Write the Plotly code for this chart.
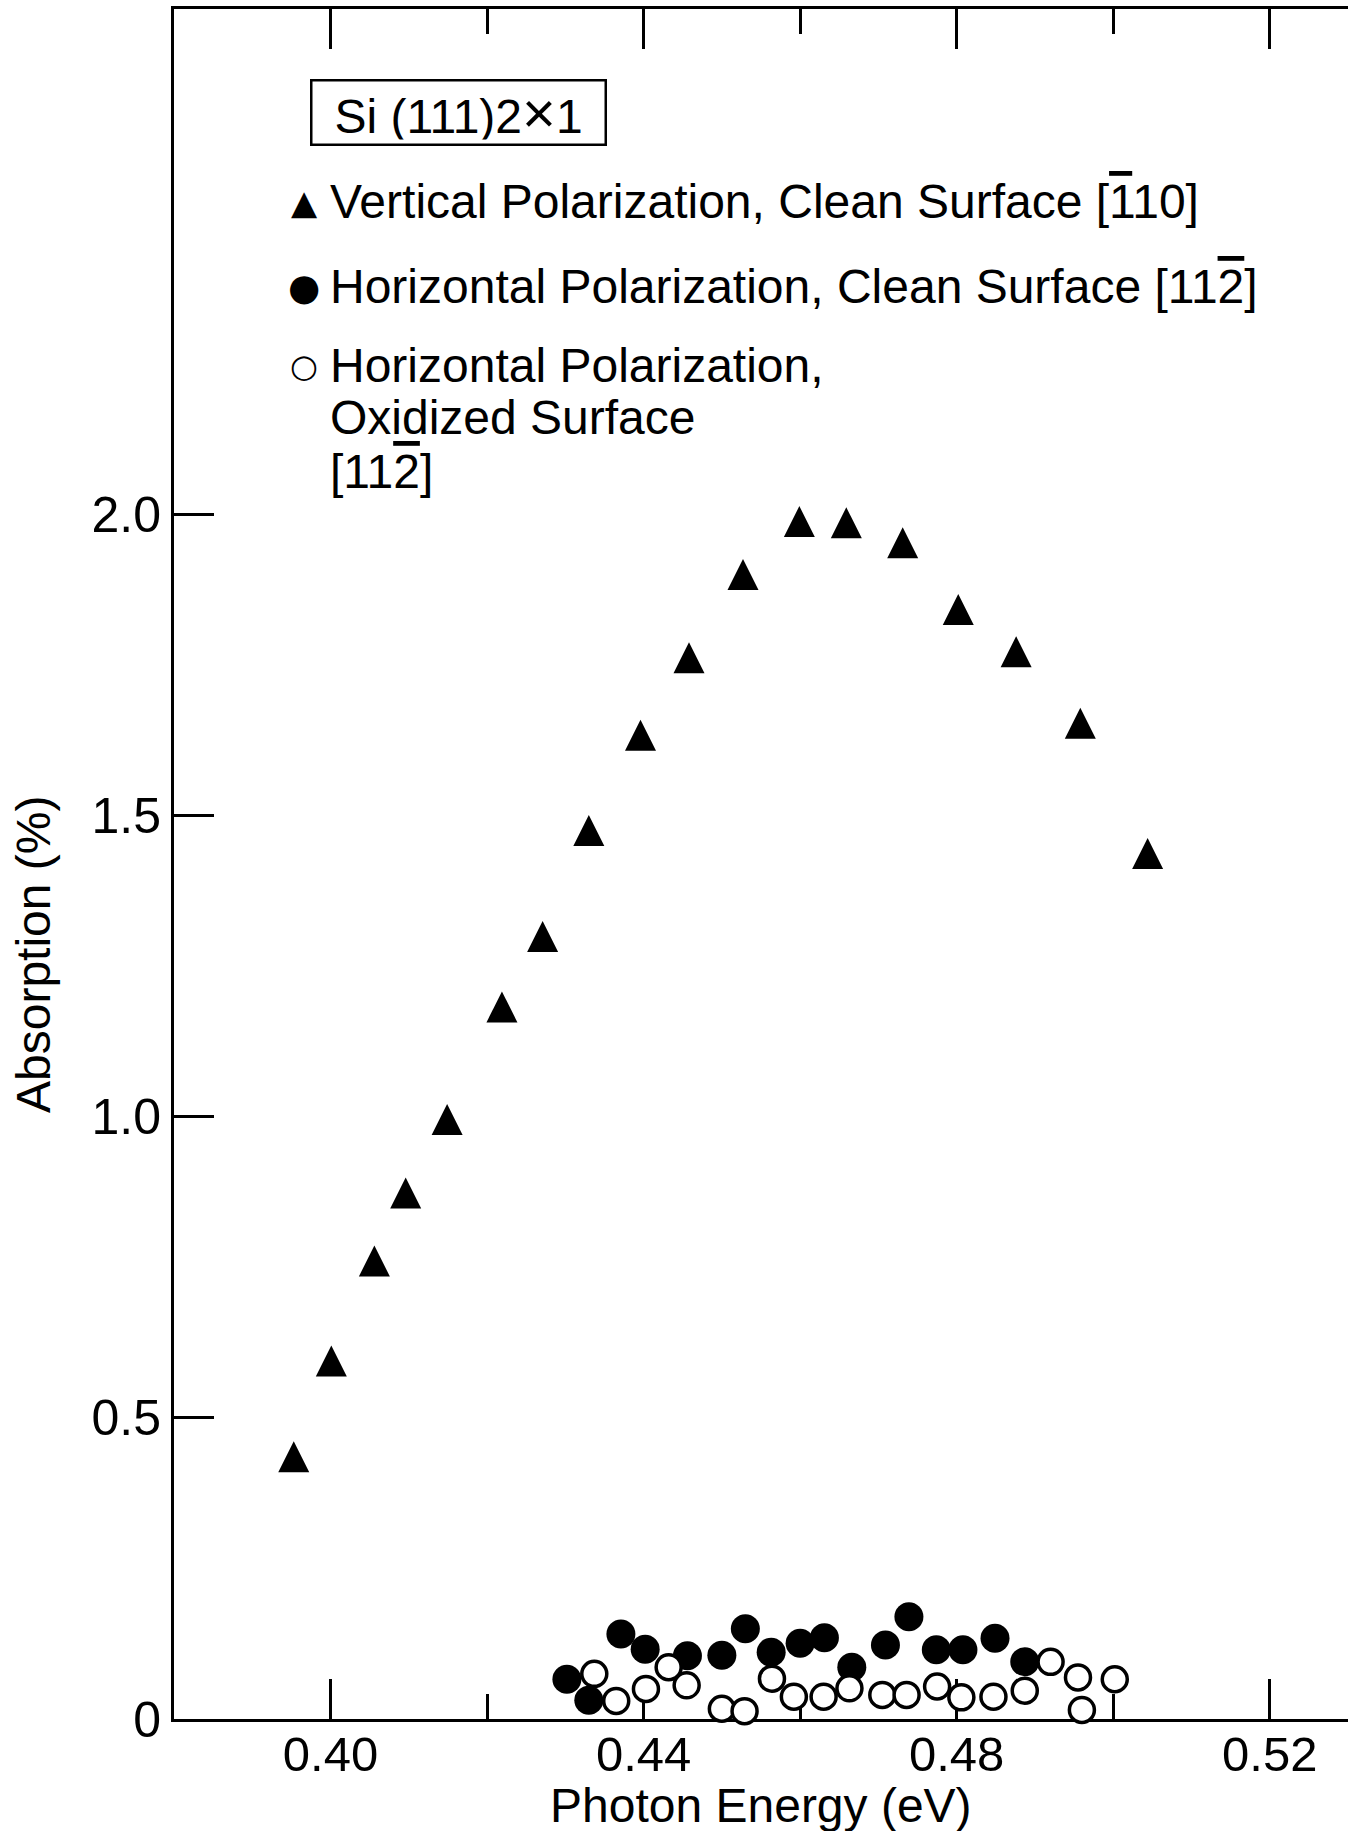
import plotly.graph_objects as go

# ---------------- data ----------------
# Vertical polarization, clean surface [-110]
tri_x = [0.3953, 0.4001, 0.4056, 0.4096, 0.4149, 0.4219, 0.4271, 0.4330, 0.4396,
         0.4458, 0.4527, 0.4599, 0.4659, 0.4731, 0.4802, 0.4876, 0.4958, 0.5044]
tri_y = [0.427, 0.586, 0.752, 0.865, 0.987, 1.174, 1.291, 1.467, 1.625,
         1.754, 1.892, 1.980, 1.978, 1.945, 1.834, 1.764, 1.645, 1.429]

# Horizontal polarization, clean surface [11-2]
fill_x = [0.4302, 0.4330, 0.4371, 0.4402, 0.4456, 0.4500, 0.4530, 0.4563, 0.4600,
          0.4631, 0.4666, 0.4709, 0.4739, 0.4774, 0.4808, 0.4849, 0.4887]
fill_y = [0.066, 0.031, 0.141, 0.116, 0.105, 0.106, 0.150, 0.111, 0.126,
          0.135, 0.086, 0.123, 0.170, 0.115, 0.115, 0.134, 0.095]

# Horizontal polarization, oxidized surface [11-2]
open_x = [0.4337, 0.4365, 0.4403, 0.4432, 0.4455, 0.4500, 0.4529, 0.4564, 0.4592,
          0.4630, 0.4663, 0.4705, 0.4736, 0.4775, 0.4806, 0.4847, 0.4887, 0.4920,
          0.4955, 0.4960, 0.5002]
open_y = [0.075, 0.030, 0.050, 0.086, 0.056, 0.017, 0.013, 0.067, 0.037,
          0.037, 0.051, 0.040, 0.040, 0.054, 0.036, 0.037, 0.047, 0.095,
          0.069, 0.015, 0.066]

x_ticks = [0.40, 0.44, 0.48, 0.52]
x_ticklabels = ["0.40", "0.44", "0.48", "0.52"]
x_minor = [0.42, 0.46, 0.50]
y_ticks = [0, 0.5, 1.0, 1.5, 2.0]
y_ticklabels = ["0", "0.5", "1.0", "1.5", "2.0"]

OV = "<span style='text-decoration:overline'>{}</span>"
title_box = "Si (111)2<span style='font-size:58px'>×</span>1"
leg1 = "Vertical Polarization, Clean Surface [" + OV.format("1") + "10]"
leg2 = "Horizontal Polarization, Clean Surface [11" + OV.format("2") + "]"
leg3 = ["Horizontal Polarization,", "Oxidized Surface", "[11" + OV.format("2") + "]"]

# ---------------- layout geometry ----------------
W, H = 1348, 1831
ML, MR, MT, MB = 174, 0, 9, 112
PW, PH = W - ML - MR, H - MT - MB


def px(xp):
    return (xp - ML) / PW


def py(yp):
    return (H - MB - yp) / PH


FONT = "Liberation Sans, Arial, Helvetica, sans-serif"

fig = go.Figure()

fig.add_trace(go.Scatter(
    x=fill_x, y=fill_y, mode="markers", cliponaxis=False,
    marker=dict(symbol="circle", size=29, color="black", line=dict(width=0)),
))
fig.add_trace(go.Scatter(
    x=tri_x, y=tri_y, mode="markers", cliponaxis=False,
    marker=dict(symbol="arrow-down", angle=180, standoff=20.7, size=31,
                color="black", line=dict(width=0)),
))
fig.add_trace(go.Scatter(
    x=open_x, y=open_y, mode="markers", cliponaxis=False,
    marker=dict(symbol="circle", size=25, color="white",
                line=dict(width=3.5, color="black")),
))

tick_common = dict(ticks="inside", ticklen=40, tickwidth=2.5, tickcolor="black",
                   showgrid=False, zeroline=False, layer="below traces")

fig.update_layout(
    xaxis=dict(range=[0.38, 0.53], tickmode="array", tickvals=x_ticks,
               ticktext=x_ticklabels, showline=True, linewidth=3, linecolor="black",
               mirror="ticks", ticklabelstandoff=-10,
               tickfont=dict(size=49, color="black", family=FONT),
               minor=dict(tickmode="array", tickvals=x_minor, ticks="inside",
                          ticklen=25, tickwidth=2.5, tickcolor="black",
                          showgrid=False),
               **tick_common),
    yaxis=dict(range=[0, 2.84], tickmode="array", tickvals=y_ticks,
               ticktext=y_ticklabels, showline=True, linewidth=3, linecolor="black",
               mirror=False, tickfont=dict(size=50, color="black", family=FONT),
               **tick_common),
    yaxis2=dict(range=[0, 2.84], overlaying="y", side="right", anchor="x",
                tickmode="array", tickvals=y_ticks, showticklabels=False,
                showline=False, **tick_common),
)

ann = []
tf = dict(family=FONT, size=48, color="black")
ann.append(dict(text=title_box, x=px(458), y=py(112), xanchor="center",
                yanchor="middle", width=284, height=54, borderpad=4,
                bordercolor="black", borderwidth=2.5, font=tf))
# legend glyphs
ann.append(dict(text="▲", x=px(304), y=py(202), xanchor="center", yanchor="middle",
                font=dict(family="DejaVu Sans", size=34, color="black")))
ann.append(dict(text="●", x=px(304), y=py(287), xanchor="center", yanchor="middle",
                font=dict(family="DejaVu Sans", size=37, color="black")))
ann.append(dict(text="○", x=px(304), y=py(366), xanchor="center", yanchor="middle",
                font=dict(family="DejaVu Sans", size=32, color="black")))
ann.append(dict(text=leg1, x=px(328), y=py(201.5), xanchor="left", yanchor="middle", font=tf))
ann.append(dict(text=leg2, x=px(328), y=py(286.5), xanchor="left", yanchor="middle", font=tf))
for t, yy in zip(leg3, [365, 417.5, 471.5]):
    ann.append(dict(text=t, x=px(328), y=py(yy), xanchor="left", yanchor="middle", font=tf))
# axis titles
ann.append(dict(text="Photon Energy (eV)", x=px(761), y=py(1805), xanchor="center",
                yanchor="middle", font=tf))
ann.append(dict(text="Absorption (%)", x=px(33), y=py(955), xanchor="center",
                yanchor="middle", textangle=-90, font=tf))
for a in ann:
    a.update(xref="paper", yref="paper", showarrow=False)

fig.update_layout(
    width=W, height=H, margin=dict(l=ML, r=MR, t=MT, b=MB, pad=0),
    plot_bgcolor="white", paper_bgcolor="white", showlegend=False,
    font=dict(family=FONT, color="black"), annotations=ann,
)

fig.write_html("out.html", config={"displayModeBar": False},
               post_script="document.body.style.margin='0';document.body.style.overflow='hidden';")
